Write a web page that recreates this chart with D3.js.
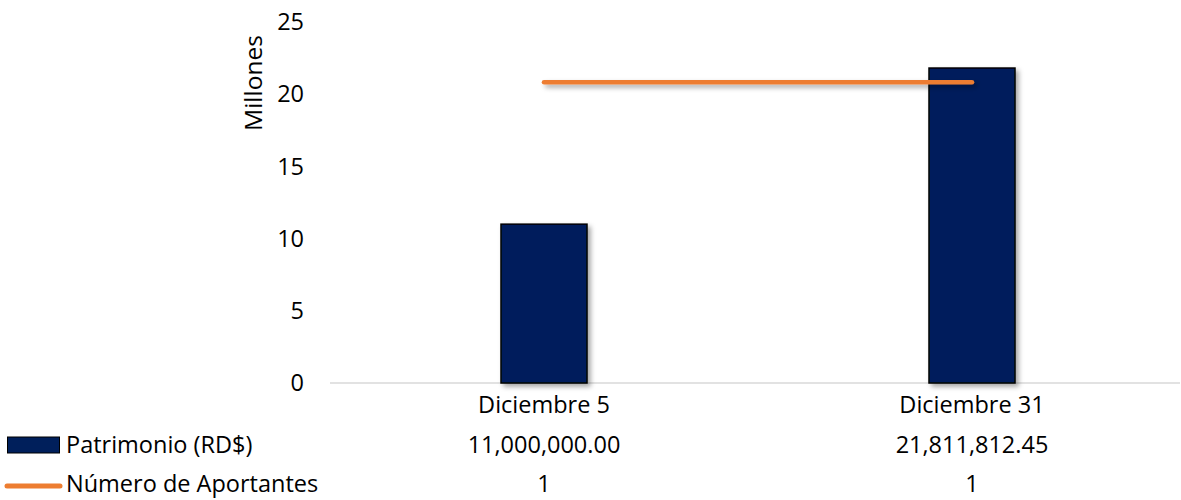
<!DOCTYPE html>
<html>
<head>
<meta charset="utf-8">
<script src="https://cdn.jsdelivr.net/npm/d3@7"></script>
<style>
  body { margin: 0; background: #fff; }
  text { font-family: "Open Sans", sans-serif; fill: #000; }
</style>
</head>
<body>
<div class="container"></div>
<script>
const categories = ["Diciembre 5", "Diciembre 31"];
const patrimonio = [11000000.00, 21811812.45];
const aportantes = [1, 1];
const yTicks = [0, 5, 10, 15, 20, 25];
const tableRows = [
  { name: "Patrimonio (RD$)", values: ["11,000,000.00", "21,811,812.45"], type: "bar" },
  { name: "Número de Aportantes", values: ["1", "1"], type: "line" }
];

const w = 1181, h = 500;
const navy = "#001f5b", orange = "#ed7d31";
const fs = "23.5px";

const svg = d3.select(".container").append("svg")
  .attr("width", w).attr("height", h);

const defs = svg.append("defs");
const f = defs.append("filter").attr("id", "shadow")
  .attr("filterUnits", "userSpaceOnUse")
  .attr("x", 0).attr("y", 0).attr("width", w).attr("height", h);
f.append("feDropShadow").attr("dx", 3).attr("dy", 3).attr("stdDeviation", 2.5)
  .attr("flood-color", "#000").attr("flood-opacity", 0.35);

const x = d3.scaleBand().domain(categories).range([330, 1186]);
const y = d3.scaleLinear().domain([0, 25]).range([383, 22]);
const y2 = d3.scaleLinear().domain([0, 1.2]).range([383, 22]);

// axis line
svg.append("line")
  .attr("x1", 330).attr("x2", 1180)
  .attr("y1", y(0)).attr("y2", y(0))
  .attr("stroke", "#d9d9d9").attr("stroke-width", 1.5);

// y tick labels
svg.selectAll(".ytick").data(yTicks).enter().append("text")
  .attr("x", 304).attr("y", d => y(d))
  .attr("dy", "0.35em").attr("text-anchor", "end")
  .style("font-size", fs).text(d => d);

svg.append("text")
  .attr("transform", "translate(253,83) rotate(-90)")
  .attr("text-anchor", "middle").attr("dy", "0.35em")
  .style("font-size", "24.5px").text("Millones");

// bars
const bw = 86;
svg.selectAll(".bar").data(patrimonio).enter().append("rect")
  .attr("x", (d, i) => x(categories[i]) + x.bandwidth() / 2 - bw / 2)
  .attr("y", d => y(d / 1e6))
  .attr("width", bw)
  .attr("height", d => y(0) - y(d / 1e6))
  .attr("fill", navy).attr("stroke", "#000").attr("stroke-width", 1.5)
  .attr("filter", "url(#shadow)");

// line
const line = d3.line()
  .x((d, i) => x(categories[i]) + x.bandwidth() / 2)
  .y(d => y2(d));
svg.append("path").datum(aportantes)
  .attr("d", line)
  .attr("fill", "none").attr("stroke", orange)
  .attr("stroke-width", 4.5).attr("stroke-linecap", "round")
  .attr("filter", "url(#shadow)");

// category labels
svg.selectAll(".cat").data(categories).enter().append("text")
  .attr("x", d => x(d) + x.bandwidth() / 2).attr("y", 405)
  .attr("dy", "0.35em").attr("text-anchor", "middle")
  .style("font-size", fs).text(d => d);

// data table
const rowY = [445, 484];
tableRows.forEach((r, ri) => {
  const g = svg.append("g");
  if (r.type === "bar") {
    g.append("rect").attr("x", 7.5).attr("y", rowY[ri] - 8).attr("width", 52).attr("height", 16)
      .attr("fill", navy).attr("stroke", "#000").attr("stroke-width", 1);
  } else {
    g.append("line").attr("x1", 7).attr("x2", 60)
      .attr("y1", rowY[ri] + 2).attr("y2", rowY[ri] + 2)
      .attr("stroke", orange).attr("stroke-width", 5).attr("stroke-linecap", "round");
  }
  g.append("text").attr("x", 66).attr("y", rowY[ri]).attr("dy", "0.35em")
    .style("font-size", fs).text(r.name);
  g.selectAll(".v").data(r.values).enter().append("text")
    .attr("x", (d, i) => x(categories[i]) + x.bandwidth() / 2)
    .attr("y", rowY[ri]).attr("dy", "0.35em").attr("text-anchor", "middle")
    .style("font-size", fs).text(d => d);
});
</script>
</body>
</html>
